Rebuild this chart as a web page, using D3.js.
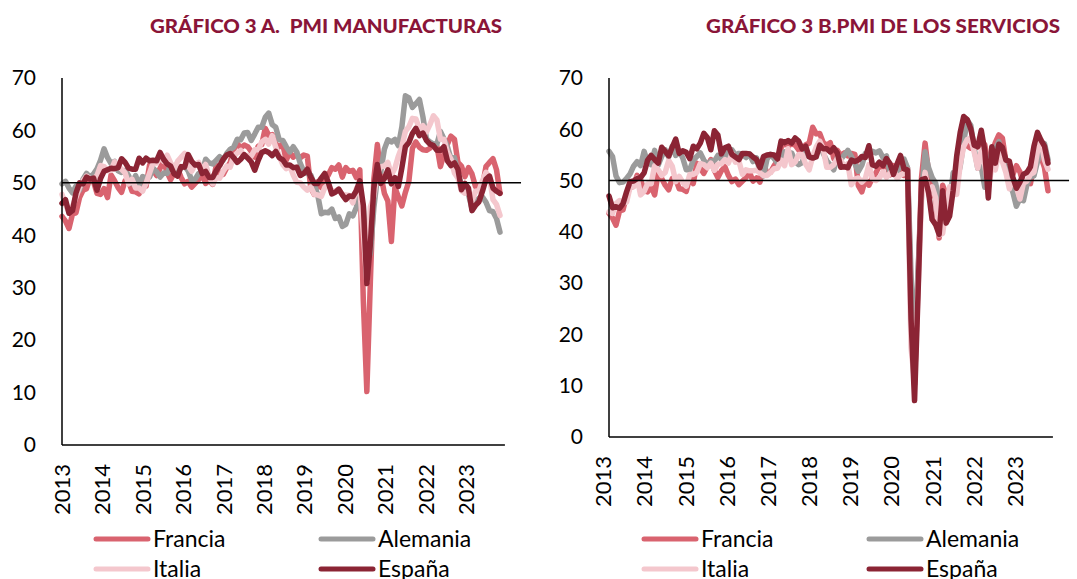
<!DOCTYPE html>
<html>
<head>
<meta charset="utf-8">
<script src="https://cdn.jsdelivr.net/npm/d3@7"></script>
<style>
  body { margin: 0; background: #fff; }
  text { font-family: Lato, "Open Sans", sans-serif; }
</style>
</head>
<body>
<svg id="chart" width="1077" height="579"></svg>
<script>
// Datos mensuales, ene-2013 a jun-2023 (126 meses)

var years = ['2013','2014','2015','2016','2017','2018','2019','2020','2021','2022','2023'];
var seriesNames = ['Francia', 'Alemania', 'Italia', 'España'];
var yTicks = [0, 10, 20, 30, 40, 50, 60, 70];

// Francia: la misma serie aparece en los dos gráficos (caída a ~10 en abr-2020)
var francia = [
  43.6,42.7,41.3,44.1,44.3,47.2,48.6,48.9,51.0,50.2,48.0,47.8,
  48.9,47.2,51.5,50.4,49.1,48.2,50.4,50.3,48.4,48.3,47.9,50.6,
  49.4,53.4,52.4,51.4,52.8,54.1,52.0,50.6,51.9,52.7,51.0,49.8,
  50.3,49.2,49.9,50.6,51.6,49.9,50.5,49.7,53.3,51.4,51.6,52.9,
  53.9,56.4,57.5,56.7,57.2,56.9,56.0,54.9,57.0,57.3,60.4,59.1,
  59.2,57.4,56.9,57.4,54.3,55.9,54.9,55.4,54.8,55.3,55.1,49.0,
  47.8,50.2,49.1,50.5,51.5,52.9,52.6,53.4,51.1,52.9,52.2,52.4,
  51.0,52.5,27.4,10.2,31.1,50.7,57.3,51.5,48.0,46.5,38.8,49.1,
  47.3,45.6,48.2,50.3,56.6,57.8,56.8,56.3,56.2,56.6,57.4,57.0,
  53.1,55.5,57.4,58.9,58.3,53.9,53.2,51.2,52.9,51.7,49.3,49.5,
  49.4,53.1,53.9,54.6,52.5,48.0];

// Gráfico A: manufacturas
var alemaniaManuf = [
  49.8,50.3,49.0,48.1,49.4,48.6,50.7,51.8,51.1,51.7,52.7,54.3,
  56.5,54.8,53.7,54.1,52.3,52.0,52.4,51.4,49.9,51.4,49.5,51.2,
  50.9,51.1,52.8,52.1,51.1,51.9,51.8,53.3,52.3,52.1,52.9,53.2,
  52.3,50.5,50.7,51.8,52.1,54.5,53.8,53.6,54.3,55.0,54.3,55.6,
  56.4,56.8,58.3,58.2,59.5,59.6,58.1,59.3,60.6,60.6,62.5,63.3,
  61.1,60.6,58.2,58.1,56.9,55.9,56.9,55.9,53.7,52.2,51.8,51.5,
  49.7,47.6,44.1,44.4,44.3,45.0,43.2,43.5,41.7,42.1,44.1,43.7,
  45.3,48.0,45.4,34.5,36.6,45.2,51.0,52.2,56.4,58.2,57.8,58.3,
  57.1,60.7,66.6,66.2,64.4,65.1,65.9,62.6,58.4,57.8,57.4,57.4,
  59.8,58.4,56.9,54.6,54.8,52.0,49.3,49.1,47.8,45.1,46.2,47.1,
  47.3,46.3,44.7,44.5,43.2,40.6];

var italiaManuf = [
  47.8,45.8,44.5,45.5,47.3,49.1,50.4,51.3,50.8,50.7,51.4,53.3,
  53.1,52.3,52.4,54.0,53.2,52.6,51.9,49.8,50.7,49.0,49.0,48.4,
  49.9,51.9,53.8,53.8,54.8,54.1,55.3,53.8,52.7,54.1,54.9,55.6,
  53.2,52.2,53.5,53.9,52.4,53.5,51.2,49.8,51.0,50.9,52.2,53.2,
  53.0,55.0,55.7,56.2,55.1,55.2,55.1,56.3,56.3,57.8,58.3,57.4,
  59.0,56.8,55.1,53.5,52.7,53.3,51.5,50.1,50.0,49.2,48.6,49.2,
  47.8,47.7,47.4,49.1,49.7,48.4,48.5,48.7,47.8,47.7,47.6,46.2,
  48.9,48.7,40.3,31.1,45.4,47.5,51.9,53.1,53.2,53.9,51.5,52.8,
  55.1,56.9,59.8,60.7,62.3,62.2,60.3,60.9,59.7,61.1,62.8,62.0,
  58.3,58.3,55.8,54.5,51.9,50.9,48.5,48.0,48.3,46.5,48.4,48.5,
  50.4,52.0,51.1,46.8,45.9,43.8];

var espanaManuf = [
  46.1,46.8,44.2,44.7,48.1,50.0,49.8,51.1,50.7,50.9,48.6,50.8,
  52.2,52.5,52.8,52.7,52.9,54.6,53.9,52.8,52.6,52.6,54.7,53.8,
  54.7,54.2,54.3,54.2,55.8,54.5,53.6,53.2,51.7,51.3,53.1,53.0,
  55.4,54.1,53.4,53.5,51.8,52.2,51.0,51.0,52.3,53.3,54.5,55.3,
  55.6,54.8,53.9,54.5,55.4,54.7,54.0,52.4,54.3,55.8,56.1,55.8,
  55.2,56.0,54.8,54.4,53.4,53.4,52.9,53.0,51.4,51.8,52.6,51.1,
  49.9,49.9,50.9,51.8,50.1,47.9,48.2,48.8,47.7,46.8,47.5,47.4,
  48.5,50.4,45.7,30.8,38.3,49.0,53.5,49.9,50.8,52.5,49.8,51.0,
  49.3,52.9,56.9,57.7,59.4,60.4,59.0,59.5,58.1,57.4,57.1,56.2,
  56.2,56.9,54.2,53.3,53.8,52.6,48.7,49.9,49.0,44.7,45.7,46.4,
  48.4,50.7,51.3,49.0,48.4,48.0];

// Gráfico B: servicios
var alemaniaServ = [
  55.7,54.7,50.9,49.6,49.7,50.4,51.3,52.8,53.7,52.9,55.7,53.5,
  53.1,55.9,53.0,54.7,56.0,54.6,56.7,54.9,55.7,54.4,52.1,52.1,
  54.0,54.7,55.4,54.0,53.0,53.8,53.8,54.9,54.1,54.5,55.6,56.0,
  55.0,55.3,55.1,54.5,55.2,53.7,54.4,51.7,50.9,54.2,55.1,54.3,
  53.4,54.4,55.6,55.4,55.4,53.7,53.1,53.5,55.6,54.7,54.3,55.8,
  57.3,55.3,53.9,53.0,52.1,54.5,54.1,55.0,55.9,54.7,53.3,51.8,
  53.0,55.3,55.4,55.7,55.4,55.8,54.5,54.8,51.4,51.6,51.7,52.9,
  54.2,52.5,31.7,16.2,32.6,47.3,55.6,52.5,50.6,49.5,46.0,47.0,
  46.7,45.7,51.5,49.9,52.8,57.5,61.8,60.8,56.2,52.4,52.7,48.7,
  52.2,55.8,56.1,57.6,55.0,52.4,49.7,47.7,45.0,46.5,46.1,49.2,
  50.7,50.9,53.7,56.0,57.2,54.1];

var italiaServ = [
  43.9,43.6,45.5,46.1,45.6,45.8,48.7,48.8,50.5,47.2,47.9,49.4,
  49.4,52.9,52.1,51.0,51.6,53.9,52.8,49.8,50.8,49.7,48.9,51.2,
  51.2,51.6,53.3,53.1,52.5,53.4,52.0,53.2,53.3,54.1,53.4,55.3,
  53.6,53.8,51.2,52.1,51.9,51.9,52.0,51.5,51.0,51.0,51.6,52.3,
  52.4,54.0,52.9,56.2,53.1,53.6,55.1,55.1,53.2,52.1,54.7,56.5,
  57.7,56.2,52.6,52.6,53.1,54.3,54.0,52.6,53.3,49.2,50.3,50.5,
  49.7,50.4,53.1,50.4,50.0,50.5,51.7,50.6,51.4,52.2,50.4,51.1,
  51.4,52.1,17.4,10.8,28.9,46.4,51.6,47.1,48.8,46.7,39.4,39.7,
  44.7,48.8,48.6,47.3,53.1,56.7,58.0,58.3,55.5,52.4,55.9,53.0,
  48.5,52.8,52.1,55.7,53.7,51.6,48.4,50.5,48.8,46.4,49.5,49.9,
  51.2,51.6,55.7,57.6,54.0,52.2];

var espanaServ = [
  47.0,44.7,44.9,44.6,45.5,47.8,49.8,49.9,50.4,50.6,51.5,54.0,
  54.9,54.1,53.4,56.5,55.7,54.8,56.5,58.1,55.3,55.8,55.5,54.3,
  56.7,56.2,57.3,59.2,58.4,56.0,59.7,58.9,55.2,56.4,56.7,55.1,
  54.6,54.1,55.3,55.3,55.2,54.6,54.1,52.5,54.7,55.0,55.1,55.0,
  54.2,57.7,57.4,57.8,57.3,58.3,57.7,56.2,56.7,54.6,54.4,54.6,
  56.9,56.2,56.2,55.6,56.4,55.4,52.6,52.7,52.5,54.0,53.7,54.0,
  54.7,54.5,56.8,53.1,52.8,53.6,52.9,54.3,53.3,51.2,53.2,54.9,
  52.3,52.1,23.0,7.1,27.9,50.2,50.4,47.7,42.4,41.4,39.5,48.0,
  41.7,43.1,48.1,54.8,59.4,62.5,61.9,60.1,56.9,56.6,59.8,55.8,
  46.6,56.6,53.4,57.1,56.5,54.0,53.8,50.6,48.5,49.7,51.2,51.6,
  52.7,56.7,59.4,57.9,56.7,53.4];

var colors = ['#d9636f', '#9b9b9b', '#f4c7cd', '#8b2434'];
var titleColor = '#8a1538';

var svg = d3.select('#chart');

// Functions:

function draw_panel(p, seriesData){
  // p: layout of one panel. seriesData in the order of seriesNames.
  var n = seriesData[0].length;
  var x = d3.scaleLinear().domain([0, n - 1]).range([p.left, p.right]);
  var y = d3.scaleLinear().domain([0, 70]).range([p.bottom, p.top]);

  var g = svg.append('g');

  // Title
  g.append('text')
    .attr('x', p.titleX)
    .attr('y', 33)
    .attr('text-anchor', 'end')
    .attr('textLength', p.titleW)
    .attr('lengthAdjust', 'spacingAndGlyphs')
    .style('white-space', 'pre')
    .style('font-weight', 900)
    .style('font-size', '18px')
    .style('fill', titleColor)
    .text(p.title);

  // Y tick labels (no tick marks in the original)
  g.selectAll('.ylab')
    .data(yTicks)
    .enter().append('text')
    .attr('x', p.left - 26)
    .attr('y', function(d) { return y(d); })
    .attr('dy', '0.35em')
    .attr('text-anchor', 'end')
    .style('font-size', '21px')
    .style('fill', '#000')
    .text(function(d) { return d; });

  // Year labels, rotated. Excel spaced them a bit tighter than 12 months.
  var xLab = d3.scalePoint()
    .domain(years)
    .range([x(p.labStart), x(p.labEnd)]);
  g.selectAll('.xlab')
    .data(years)
    .enter().append('text')
    .attr('transform', function(d) {
      return 'translate(' + xLab(d) + ',' + (p.bottom + 19) + ') rotate(-90)';
    })
    .attr('dy', '0.36em')
    .attr('text-anchor', 'end')
    .style('font-size', '22px')
    .style('fill', '#000')
    .text(function(d) { return d; });

  // Lines
  var line = d3.line()
    .x(function(d, i) { return x(i); })
    .y(function(d) { return y(d); });
  for (var i = 0; i < seriesData.length; i++) {
    g.append('path')
      .datum(seriesData[i])
      .attr('fill', 'none')
      .attr('stroke', colors[i])
      .attr('stroke-width', 5.5)
      .attr('stroke-linejoin', 'round')
      .attr('stroke-linecap', 'round')
      .attr('d', line);
  }

  // Axes
  g.append('line')
    .attr('x1', p.left).attr('x2', p.left)
    .attr('y1', y(0)).attr('y2', y(70))
    .attr('stroke', '#000').attr('stroke-width', 1.5);
  g.append('line')
    .attr('x1', p.left).attr('x2', x(n - 1 + p.axisPad))
    .attr('y1', y(0)).attr('y2', y(0))
    .attr('stroke', '#000').attr('stroke-width', 1.5);
  // Reference line at 50
  g.append('line')
    .attr('x1', p.left).attr('x2', x(n - 1 + p.refPad))
    .attr('y1', y(50)).attr('y2', y(50))
    .attr('stroke', '#000').attr('stroke-width', 1.5);

  // Legend, 2 x 2
  var leg = g.selectAll('.leg')
    .data(seriesNames)
    .enter().append('g')
    .attr('transform', function(d, i) {
      return 'translate(' + (p.legendX + (i % 2) * 225) + ',' + (539 + Math.floor(i / 2) * 30) + ')';
    });
  leg.append('line')
    .attr('x1', 0).attr('x2', 52)
    .attr('y1', 0).attr('y2', 0)
    .attr('stroke', function(d, i) { return colors[i]; })
    .attr('stroke-width', 5)
    .attr('stroke-linecap', 'round');
  leg.append('text')
    .attr('x', 57)
    .attr('dy', '0.35em')
    .style('font-size', '23px')
    .style('fill', '#000')
    .text(function(d) { return d; });
}

draw_panel({
  title: 'GRÁFICO 3 A.  PMI MANUFACTURAS', titleX: 502, titleW: 352,
  left: 62, right: 500, top: 78, bottom: 445,
  labStart: 0, labEnd: 115.3, axisPad: 1.4, refPad: 6,
  legendX: 96
}, [francia, alemaniaManuf, italiaManuf, espanaManuf]);

draw_panel({
  title: 'GRÁFICO 3 B.PMI DE LOS SERVICIOS', titleX: 1060, titleW: 354,
  left: 609, right: 1048, top: 78, bottom: 437,
  labStart: -1.6, labEnd: 115.6, axisPad: 1.4, refPad: 6,
  legendX: 644
}, [francia, alemaniaServ, italiaServ, espanaServ]);
</script>
</body>
</html>
